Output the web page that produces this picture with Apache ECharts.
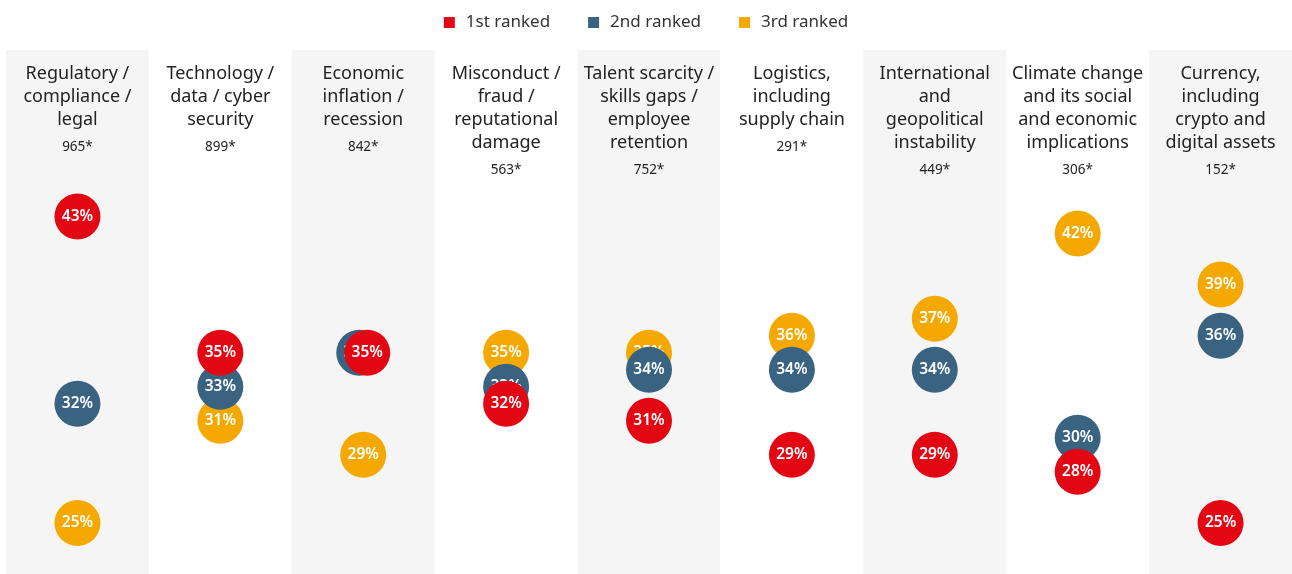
<!DOCTYPE html>
<html>
<head>
<meta charset="utf-8">
<script src="https://cdn.jsdelivr.net/npm/echarts@6/dist/echarts.min.js"></script>
<style>
  html, body { margin: 0; padding: 0; background: #ffffff; }
  #chart { width: 1292px; height: 574px; }
</style>
</head>
<body>
<div id="chart"></div>
<script>
// Risk categories (title lines) and number of respondents ranking each
const categories = [
  'Regulatory /\ncompliance /\nlegal',
  'Technology /\ndata / cyber\nsecurity',
  'Economic\ninflation /\nrecession',
  'Misconduct /\nfraud /\nreputational\ndamage',
  'Talent scarcity /\nskills gaps /\nemployee\nretention',
  'Logistics,\nincluding\nsupply chain',
  'International\nand\ngeopolitical\ninstability',
  'Climate change\nand its social\nand economic\nimplications',
  'Currency,\nincluding\ncrypto and\ndigital assets'
];
const respondents = ['965*', '899*', '842*', '563*', '752*', '291*', '449*', '306*', '152*'];

// Share of respondents (%) placing the risk 1st, 2nd and 3rd
const ranked1st = [43, 35, 35, 32, 31, 29, 29, 28, 25];
const ranked2nd = [32, 33, 35, 33, 34, 34, 34, 30, 36];
const ranked3rd = [25, 31, 29, 35, 35, 36, 37, 42, 39];

const seriesNames = ['1st ranked', '2nd ranked', '3rd ranked'];
const seriesColors = ['#e30613', '#3a6382', '#f5a800'];

const FONT = '"Noto Sans", Lato, sans-serif';

// Nudge the 1st / 2nd markers sideways where both have the same value
function points(values, side) {
  return values.map((v, i) => {
    const item = { value: [i, v] };
    if (ranked1st[i] === ranked2nd[i] && side !== 0) {
      item.symbolOffset = [side * 4, 0];
    }
    return item;
  });
}

function scatter(idx, values, side) {
  return {
    name: seriesNames[idx],
    type: 'scatter',
    z: 10 - idx,
    symbol: 'circle',
    symbolSize: 46,
    itemStyle: { color: seriesColors[idx], opacity: 1 },
    label: {
      show: true,
      position: 'inside',
      color: '#ffffff',
      fontFamily: FONT,
      fontWeight: 600,
      fontSize: 15.5,
      formatter: p => p.value[1] + '%'
    },
    emphasis: { disabled: true },
    data: points(values, side)
  };
}

const chart = echarts.init(document.getElementById('chart'), null, { renderer: 'canvas' });

chart.setOption({
  animation: false,
  backgroundColor: '#ffffff',
  legend: {
    top: 9,
    left: 'center',
    icon: 'rect',
    itemWidth: 11,
    itemHeight: 11,
    itemGap: 38,
    textStyle: { fontFamily: FONT, fontSize: 17, color: '#333333', padding: [0, 0, 0, 6] },
    data: seriesNames
  },
  grid: { left: 6, right: 0, top: 50, bottom: 0 },
  xAxis: {
    type: 'category',
    position: 'top',
    data: categories,
    boundaryGap: true,
    axisLine: { show: false },
    axisTick: { show: false },
    splitLine: { show: false },
    splitArea: { show: true, areaStyle: { color: ['#f5f5f5', '#ffffff'] } },
    axisLabel: {
      inside: true,
      interval: 0,
      margin: 13,
      verticalAlign: 'top',
      align: 'center',
      formatter: (val, i) => {
        const lines = val.split('\n').map(s => '{t|' + s + '}');
        lines.push('{n|' + respondents[i] + '}');
        return lines.join('\n');
      },
      rich: {
        t: { fontFamily: FONT, fontSize: 18, lineHeight: 22.7, color: '#222222', align: 'center' },
        n: { fontFamily: FONT, fontSize: 13.5, lineHeight: 32, color: '#222222', align: 'center' }
      }
    }
  },
  yAxis: {
    type: 'value',
    min: 22,
    max: 52.78,
    show: false,
    splitLine: { show: false }
  },
  series: [
    scatter(0, ranked1st, 1),
    scatter(1, ranked2nd, -1),
    scatter(2, ranked3rd, 0)
  ]
});
</script>
</body>
</html>
